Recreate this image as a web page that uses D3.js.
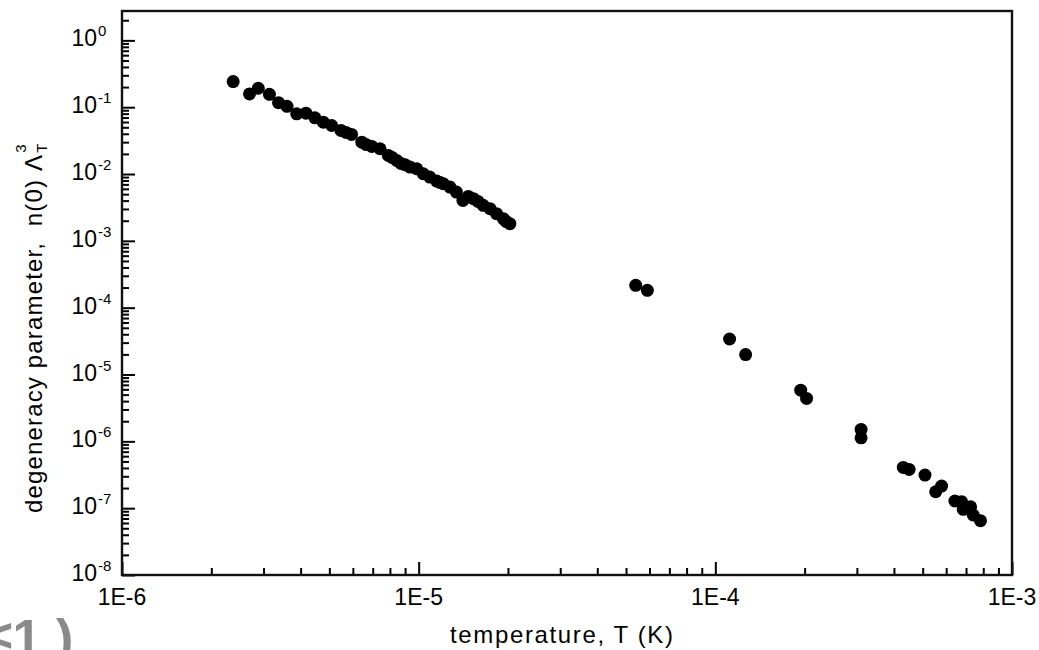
<!DOCTYPE html>
<html>
<head>
<meta charset="utf-8">
<script src="https://cdn.jsdelivr.net/npm/d3@7"></script>
<style>
  body { margin: 0; background: #fff; }
  text { font-family: "Liberation Sans", Arial, sans-serif; }
</style>
</head>
<body>
<div id="chart"></div>
<script>
/* degeneracy parameter vs temperature, log-log scatter */

// temperature (K) and degeneracy parameter
const temps = [
  2.37e-6, 2.69e-6, 2.88e-6, 3.14e-6, 3.37e-6, 3.60e-6, 3.88e-6, 4.17e-6, 4.47e-6, 4.77e-6,
  5.09e-6, 5.47e-6, 5.69e-6, 5.94e-6, 6.43e-6, 6.64e-6, 6.95e-6, 7.41e-6, 7.90e-6, 8.13e-6,
  8.43e-6, 8.71e-6, 8.99e-6, 9.35e-6, 9.85e-6, 1.036e-5, 1.09e-5, 1.15e-5, 1.18e-5, 1.21e-5,
  1.275e-5, 1.34e-5, 1.41e-5, 1.47e-5, 1.53e-5, 1.585e-5, 1.65e-5, 1.74e-5, 1.83e-5, 1.93e-5,
  1.97e-5, 2.03e-5,
  5.39e-5, 5.90e-5, 1.117e-4, 1.265e-4, 1.94e-4, 2.03e-4, 3.10e-4, 3.10e-4,
  4.30e-4, 4.50e-4, 5.09e-4, 5.53e-4, 5.79e-4, 6.42e-4, 6.76e-4, 6.85e-4, 7.25e-4, 7.40e-4, 7.83e-4
];
const degeneracy = [
  0.242, 0.158, 0.192, 0.156, 0.117, 0.103, 0.0796, 0.0813, 0.0693, 0.0597,
  0.0532, 0.0449, 0.0419, 0.0391, 0.0300, 0.0277, 0.0259, 0.0239, 0.0190, 0.0177,
  0.0160, 0.0144, 0.0138, 0.0127, 0.0120, 0.0101, 0.0090, 0.00783, 0.00748, 0.00716,
  0.00637, 0.00536, 0.00403, 0.00462, 0.00428, 0.00389, 0.0034, 0.00303, 0.00255, 0.00215,
  0.00195, 0.00181,
  2.16e-4, 1.82e-4, 3.40e-5, 1.99e-5, 5.82e-6, 4.38e-6, 1.51e-6, 1.13e-6,
  4.07e-7, 3.80e-7, 3.13e-7, 1.76e-7, 2.14e-7, 1.28e-7, 1.25e-7, 9.6e-8, 1.05e-7, 7.9e-8, 6.5e-8
];

const xTicks = [1e-6, 1e-5, 1e-4, 1e-3];
const xTickLabels = ["1E-6", "1E-5", "1E-4", "1E-3"];
const yTicks = [1e0, 1e-1, 1e-2, 1e-3, 1e-4, 1e-5, 1e-6, 1e-7, 1e-8];
const yTickExps = ["0", "-1", "-2", "-3", "-4", "-5", "-6", "-7", "-8"];

const width = 1039, height = 650;
const plotLeft = 122, plotRight = 1012, plotTop = 11, plotBottom = 575;

const data = temps.map((t, i) => ({t, n: degeneracy[i]}));

const x = d3.scaleLog().domain([1e-6, 1e-3]).range([plotLeft, plotRight]);
const y = d3.scaleLog().domain([1e-8, 2.75]).range([plotBottom, plotTop]);

// minor ticks 2..9 in each decade
const minors = (lo, hi) => {
  const out = [];
  for (let e = lo; e < hi; e++)
    for (let k = 2; k <= 9; k++) out.push(k * Math.pow(10, e));
  return out;
};
const xMinor = minors(-6, -3);
const yMinor = minors(-8, 1).filter(v => v <= 2.75);

const svg = d3.select("#chart")
  .append("svg")
  .attr("width", width)
  .attr("height", height);

// axes, ticks point inward
svg.append("g")
  .attr("transform", `translate(0,${plotBottom})`)
  .call(d3.axisBottom(x).tickValues(xTicks).tickSize(-13).tickFormat(""))
  .call(g => g.select(".domain").remove());
svg.append("g")
  .attr("transform", `translate(0,${plotBottom})`)
  .call(d3.axisBottom(x).tickValues(xMinor).tickSize(-7).tickFormat(""))
  .call(g => g.select(".domain").remove());
svg.append("g")
  .attr("transform", `translate(${plotLeft},0)`)
  .call(d3.axisLeft(y).tickValues(yTicks).tickSize(-13).tickFormat(""))
  .call(g => g.select(".domain").remove());
svg.append("g")
  .attr("transform", `translate(${plotLeft},0)`)
  .call(d3.axisLeft(y).tickValues(yMinor).tickSize(-7).tickFormat(""))
  .call(g => g.select(".domain").remove());
svg.selectAll(".tick line").attr("stroke", "#000").attr("stroke-width", 2);

svg.append("rect")
  .attr("x", plotLeft).attr("y", plotTop)
  .attr("width", plotRight - plotLeft).attr("height", plotBottom - plotTop)
  .attr("fill", "none")
  .attr("stroke", "#111")
  .attr("stroke-width", 2.4);

// tick labels
svg.append("g")
  .attr("font-size", 23)
  .attr("text-anchor", "middle")
  .selectAll("text")
  .data(xTicks)
  .join("text")
  .attr("x", d => x(d))
  .attr("y", 605)
  .text((d, i) => xTickLabels[i]);

const yl = svg.append("g").selectAll("g")
  .data(yTicks)
  .join("g")
  .attr("transform", d => `translate(0,${y(d)})`);
yl.append("text")
  .attr("x", 97).attr("y", 6)
  .attr("text-anchor", "end")
  .attr("font-size", 23)
  .text("10");
yl.append("text")
  .attr("x", 98).attr("y", -4)
  .attr("font-size", 15)
  .text((d, i) => yTickExps[i]);

// points
svg.append("g")
  .selectAll("circle")
  .data(data)
  .join("circle")
  .attr("cx", d => x(d.t))
  .attr("cy", d => y(d.n))
  .attr("r", 6.5)
  .attr("fill", "#000");

// axis titles
svg.append("text")
  .attr("x", 450).attr("y", 643)
  .attr("font-size", 24)
  .attr("textLength", 223)
  .attr("lengthAdjust", "spacing")
  .text("temperature, T (K)");

const ylab = svg.append("text")
  .attr("transform", "translate(42,513) rotate(-90)")
  .attr("font-size", 24);
ylab.append("tspan")
  .attr("textLength", 358)
  .attr("lengthAdjust", "spacing")
  .text("degeneracy parameter,\u00A0 n(0) \u039B");
ylab.append("tspan")
  .attr("font-size", 15)
  .attr("dx", 1)
  .attr("dy", 5)
  .text("T");
ylab.append("tspan")
  .attr("font-size", 15)
  .attr("dx", -9)
  .attr("dy", -21)
  .text("3");

// slide fragment in the corner
svg.append("text")
  .attr("x", -16).attr("y", 656)
  .attr("font-size", 52)
  .attr("font-weight", "bold")
  .attr("fill", "#8a8a8a")
  .text("\u22641 )");
</script>
</body>
</html>
